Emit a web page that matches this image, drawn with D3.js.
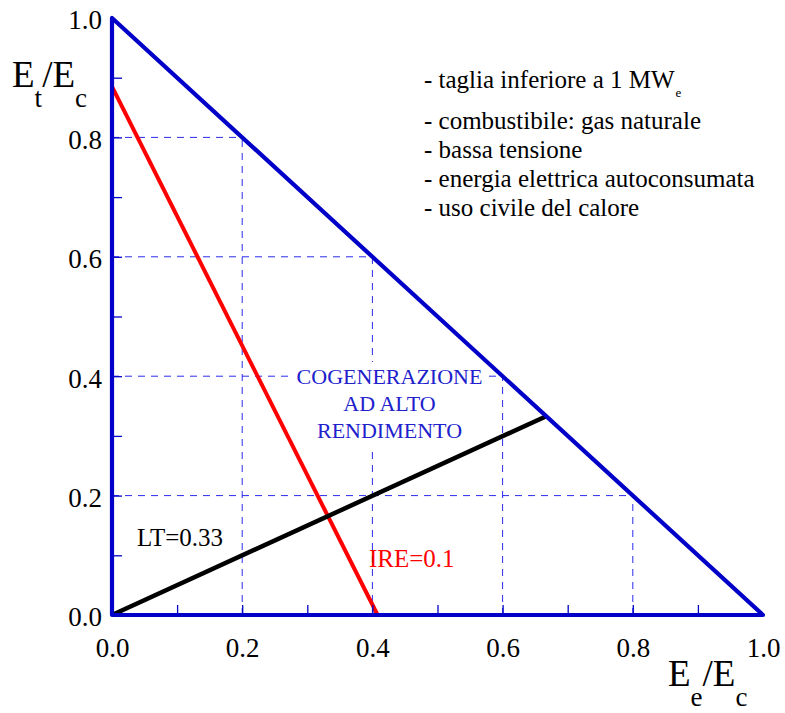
<!DOCTYPE html>
<html>
<head>
<meta charset="utf-8">
<script src="https://cdn.jsdelivr.net/npm/d3@7"></script>
<style>
  html, body { margin: 0; padding: 0; background: #fff; }
  svg { display: block; }
  svg text { font-family: "Liberation Serif", "Times New Roman", serif; }
</style>
</head>
<body>
<svg id="chart" width="785" height="713"></svg>
<script>
// Tick values shared by both axes
const majorTicks = [0, 0.2, 0.4, 0.6, 0.8, 1.0];
const minorTicks = [0.1, 0.2, 0.3, 0.4, 0.5, 0.6, 0.7, 0.8, 0.9];
const gridValues = [0.2, 0.4, 0.6, 0.8];

// Feasible region boundary: Et/Ec + Ee/Ec <= 1
const boundary = [[0, 1], [0, 0], [1, 0]];

// Threshold lines (Ee/Ec, Et/Ec)
const ireLine = [[0, 0.885], [0.408, 0]];       // IRE = 0.1
const ltLine = [[0, 0], [0.667, 0.333]];        // LT = 0.33

// Side notes
const notes = [
  "- combustibile: gas naturale",
  "- bassa tensione",
  "- energia elettrica autoconsumata",
  "- uso civile del calore"
];
const regionLabel = ["COGENERAZIONE", "AD ALTO", "RENDIMENTO"];

const svg = d3.select("#chart");
const x = d3.scaleLinear().domain([0, 1]).range([112, 763]);
const y = d3.scaleLinear().domain([0, 1]).range([615, 18]);
const line = d3.line().x(d => x(d[0])).y(d => y(d[1]));

const BLUE = "#0000c8";
const GRID = "#2a2aee";

// Dashed grid, clipped to the triangle
const grid = svg.append("g");
grid.selectAll("line.v").data(gridValues).join("line")
  .attr("x1", d => x(d)).attr("x2", d => x(d))
  .attr("y1", y(0)).attr("y2", d => y(1 - d))
  .attr("stroke", GRID).attr("stroke-width", 1).attr("stroke-dasharray", "7,6");
grid.selectAll("line.h").data(gridValues).join("line")
  .attr("y1", d => y(d)).attr("y2", d => y(d))
  .attr("x1", x(0)).attr("x2", d => x(1 - d))
  .attr("stroke", GRID).attr("stroke-width", 1).attr("stroke-dasharray", "7,6");

// Region label on a white backing
const regionG = svg.append("g");
const regionBg = regionG.append("rect").attr("fill", "#fff");
const regionText = regionG.append("text")
  .attr("text-anchor", "middle").attr("font-size", 22).attr("fill", "#2020cc");
regionLabel.forEach((t, i) => {
  regionText.append("tspan").attr("x", 389.5).attr("y", 384 + i * 27).text(t);
});
const bb = regionText.node().getBBox();
regionBg.attr("x", bb.x - 6).attr("y", bb.y - 2)
  .attr("width", bb.width + 12).attr("height", bb.height + 6);

// Threshold lines
svg.append("path").datum(ireLine).attr("d", line)
  .attr("fill", "none").attr("stroke", "#ff0000").attr("stroke-width", 4);
svg.append("path").datum(ltLine).attr("d", line)
  .attr("fill", "none").attr("stroke", "#000").attr("stroke-width", 4.5);

// Axes: inward minor ticks and labelled major values
const tickAxisX = d3.axisBottom(x).tickValues(minorTicks).tickSize(-10).tickFormat("");
const tickAxisY = d3.axisLeft(y).tickValues(minorTicks).tickSize(-10).tickFormat("");
svg.append("g").attr("transform", `translate(0,${y(0)})`).call(tickAxisX)
  .call(g => g.select(".domain").remove())
  .call(g => g.selectAll("line").attr("stroke", BLUE).attr("stroke-width", 1.3));
svg.append("g").attr("transform", `translate(${x(0)},0)`).call(tickAxisY)
  .call(g => g.select(".domain").remove())
  .call(g => g.selectAll("line").attr("stroke", BLUE).attr("stroke-width", 1.3));

const labelAxisX = d3.axisBottom(x).tickValues(majorTicks).tickSize(0).tickPadding(23)
  .tickFormat(d3.format(".1f"));
const labelAxisY = d3.axisLeft(y).tickValues(majorTicks).tickSize(0).tickPadding(10)
  .tickFormat(d3.format(".1f"));
svg.append("g").attr("transform", `translate(0,${y(0)})`).call(labelAxisX)
  .call(g => g.select(".domain").remove())
  .call(g => g.selectAll("text").attr("font-size", 27).attr("fill", "#000"));
svg.append("g").attr("transform", `translate(${x(0)},0)`).call(labelAxisY)
  .call(g => g.select(".domain").remove())
  .call(g => g.selectAll("text").attr("font-size", 27).attr("fill", "#000")
    .attr("dy", "0.4em"));

// Triangle boundary
svg.append("path").datum(boundary).attr("d", d => line(d) + "Z")
  .attr("fill", "none").attr("stroke", BLUE).attr("stroke-width", 4.2)
  .attr("stroke-linejoin", "round");

// Axis titles with subscripts
function ratioTitle(xPos, yPos, sub1, sub2) {
  const t = svg.append("text").attr("x", xPos).attr("y", yPos).attr("font-size", 37).attr("fill", "#000");
  t.append("tspan").text("E");
  t.append("tspan").attr("font-size", 27).attr("dy", 20).text(sub1);
  t.append("tspan").attr("dy", -20).text("/E");
  t.append("tspan").attr("font-size", 27).attr("dy", 20).text(sub2);
}
ratioTitle(12, 87, "t", "c");
ratioTitle(668, 686, "e", "c");

// Notes
const first = svg.append("text").attr("x", 424).attr("y", 88).attr("font-size", 25).attr("fill", "#000");
first.append("tspan").text("- taglia inferiore a 1 MW");
first.append("tspan").attr("font-size", 13).attr("dy", 9).attr("dx", 1).text("e");
svg.append("g").selectAll("text").data(notes).join("text")
  .attr("x", 424).attr("y", (d, i) => 129 + i * 29)
  .attr("font-size", 25).attr("fill", "#000").text(d => d);

// Line labels
svg.append("text").attr("x", 137).attr("y", 546).attr("font-size", 25).attr("fill", "#000").text("LT=0.33");
svg.append("text").attr("x", 369).attr("y", 567).attr("font-size", 25).attr("fill", "#ff0000").text("IRE=0.1");
</script>
</body>
</html>
